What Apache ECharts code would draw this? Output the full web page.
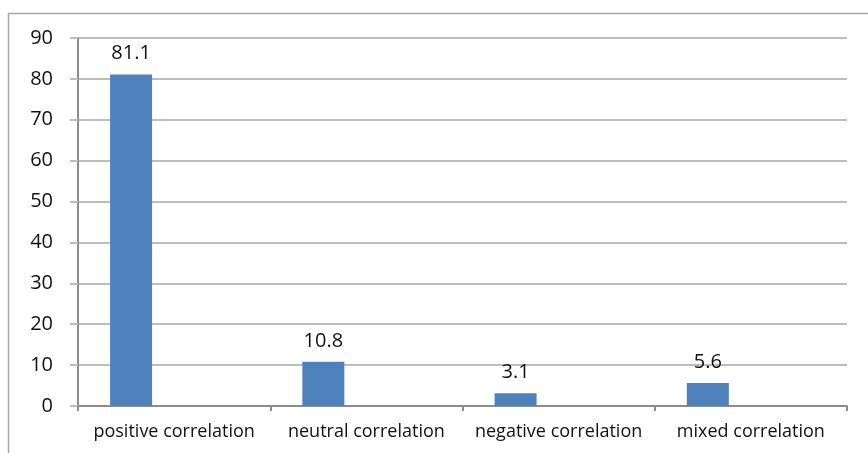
<!DOCTYPE html>
<html>
<head>
<meta charset="utf-8">
<script src="https://cdn.jsdelivr.net/npm/echarts@6/dist/echarts.min.js"></script>
<style>
  html, body { margin: 0; padding: 0; background: #fff; }
  #chart { width: 868px; height: 453px; }
</style>
</head>
<body>
<div id="chart"></div>
<script>
// data
const categories = ["positive correlation", "neutral correlation", "negative correlation", "mixed correlation"];
const values = [81.1, 10.8, 3.1, 5.6];
const yTicks = { min: 0, max: 90, step: 10 };

let myChart = echarts.init(document.getElementById("chart"));
myChart.setOption({
  animation: false,
  textStyle: { fontFamily: "Open Sans" },
  graphic: [
    {
      type: "rect",
      shape: { x: 8.5, y: 13.5, width: 900, height: 500 },
      style: { fill: "none", stroke: "#a6a6a6", lineWidth: 1.5 },
      z: -1,
    },
  ],
  grid: { left: 78, right: 21, top: 38, bottom: 47 },
  xAxis: {
    type: "category",
    data: categories,
    axisLine: { lineStyle: { color: "#8c8c8c", width: 2 } },
    axisTick: { show: true, interval: 0, length: 5, lineStyle: { color: "#8c8c8c", width: 2 } },
    axisLabel: { color: "#111", fontSize: 18, margin: 17, interval: 0 },
  },
  yAxis: {
    type: "value",
    min: yTicks.min,
    max: yTicks.max,
    interval: yTicks.step,
    axisLine: { show: true, lineStyle: { color: "#8c8c8c", width: 2 } },
    axisTick: { show: true, length: 8, lineStyle: { color: "#bdbdbd", width: 2 } },
    axisLabel: { color: "#111", fontSize: 20, margin: 25 },
    splitLine: { lineStyle: { color: "#bdbdbd", width: 2 } },
  },
  series: [
    {
      type: "bar",
      data: values,
      barWidth: 42,
      barGap: "105%",
      itemStyle: { color: "#4f81bd" },
      label: {
        show: true,
        position: "top",
        distance: 11,
        color: "#111",
        fontSize: 20,
      },
    },
    {
      // empty second series keeps the bars on the left half, like the original
      type: "bar",
      data: values.map(() => "-"),
      barWidth: 42,
    },
  ],
});
</script>
</body>
</html>
